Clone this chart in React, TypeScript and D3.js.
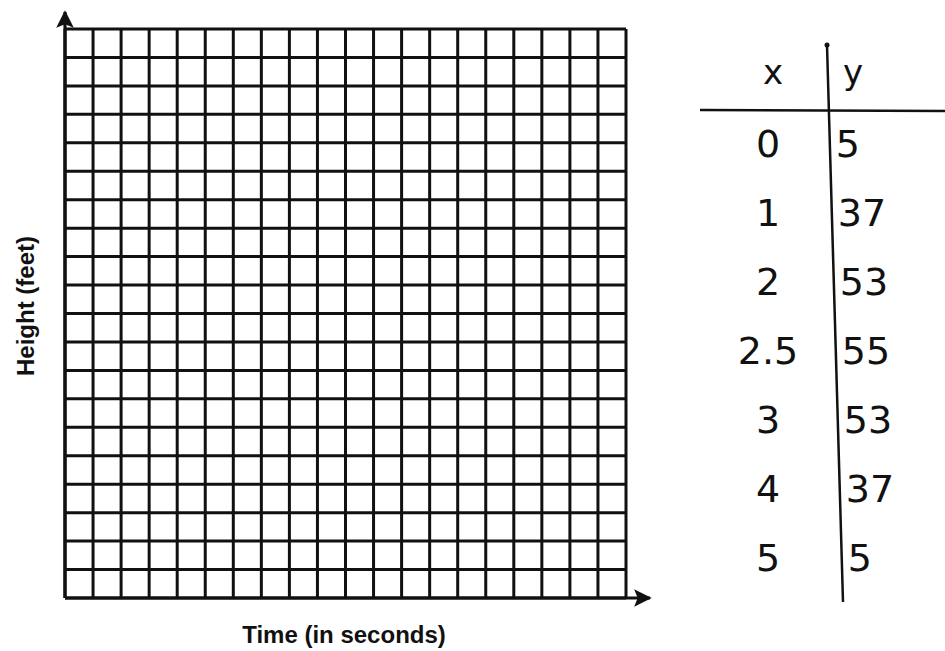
import React from "react";
import * as d3 from "d3";

const gridCols = 20;
const gridRows = 20;
const xTableValues = ["0", "1", "2", "2.5", "3", "4", "5"];
const yTableValues = [5, 37, 53, 55, 53, 37, 5];
const xTitle = "Time (in seconds)";
const yTitle = "Height (feet)";

const W = 945;
const H = 651;

export default function App() {
  const left = 65, right = 626, top = 29, bottom = 598;
  const xs = d3.scaleLinear().domain([0, gridCols]).range([left, right]);
  const ys = d3.scaleLinear().domain([0, gridRows]).range([bottom, top]);
  const colTicks = d3.range(0, gridCols + 1);
  const rowTicks = d3.range(0, gridRows + 1);

  const rowScale = d3.scalePoint<number>()
    .domain(d3.range(xTableValues.length))
    .range([143, 557]);
  const divTop: [number, number] = [827, 45];
  const divBot: [number, number] = [843, 602];
  const divX = d3.scaleLinear().domain([divTop[1], divBot[1]]).range([divTop[0], divBot[0]]);
  const hand = "'DejaVu Sans', 'Liberation Sans', sans-serif";
  const label = "'Liberation Sans', Arial, sans-serif";

  return (
    <svg width={W} height={H} viewBox={`0 0 ${W} ${H}`}
      style={{ position: "absolute", left: 0, top: 0, background: "#fff" }}>
      <defs>
        <marker id="arr" viewBox="0 0 10 10" refX="9" refY="5" markerWidth="5.5" markerHeight="5.5" orient="auto-start-reverse" markerUnits="strokeWidth">
          <path d="M0,0 L10,5 L0,10 L2,5 z" fill="#111" />
        </marker>
      </defs>
      <g stroke="#111" strokeWidth={3}>
        {colTicks.map((c) => (
          <line key={"v" + c} x1={xs(c)} x2={xs(c)} y1={ys(gridRows)} y2={ys(0)} />
        ))}
        {rowTicks.map((r) => (
          <line key={"h" + r} x1={xs(0)} x2={xs(gridCols)} y1={ys(r)} y2={ys(r)} />
        ))}
      </g>
      <line x1={xs(0)} y1={ys(0)} x2={xs(0)} y2={12} stroke="#111" strokeWidth={3.2} markerEnd="url(#arr)" />
      <line x1={xs(0)} y1={ys(0)} x2={650} y2={ys(0)} stroke="#111" strokeWidth={3.2} markerEnd="url(#arr)" />
      <text x={344} y={643} textAnchor="middle" fontFamily={label} fontWeight="bold" fontSize={24} fill="#111">{xTitle}</text>
      <text transform={`translate(34,306) rotate(-90)`} textAnchor="middle" fontFamily={label} fontWeight="bold" fontSize={24} fill="#111">{yTitle}</text>

      <line x1={700} y1={110} x2={945} y2={111} stroke="#111" strokeWidth={2.5} />
      <line x1={divTop[0]} y1={divTop[1]} x2={divBot[0]} y2={divBot[1]} stroke="#111" strokeWidth={2.5} />
      <circle cx={divTop[0]} cy={divTop[1]} r={2.5} fill="#111" />
      <text x={773} y={84} textAnchor="middle" fontFamily={hand} fontSize={34} fill="#111">x</text>
      <text x={853} y={84} textAnchor="middle" fontFamily={hand} fontSize={34} fill="#111">y</text>
      {xTableValues.map((v, i) => (
        <text key={"x" + i} x={768} y={rowScale(i)! + 14} textAnchor="middle" fontFamily={hand} fontSize={38} fill="#111">{v}</text>
      ))}
      {yTableValues.map((v, i) => (
        <text key={"y" + i} x={divX(rowScale(i)!) + 6} y={rowScale(i)! + 14} textAnchor="start" fontFamily={hand} fontSize={38} fill="#111">{v}</text>
      ))}
    </svg>
  );
}
